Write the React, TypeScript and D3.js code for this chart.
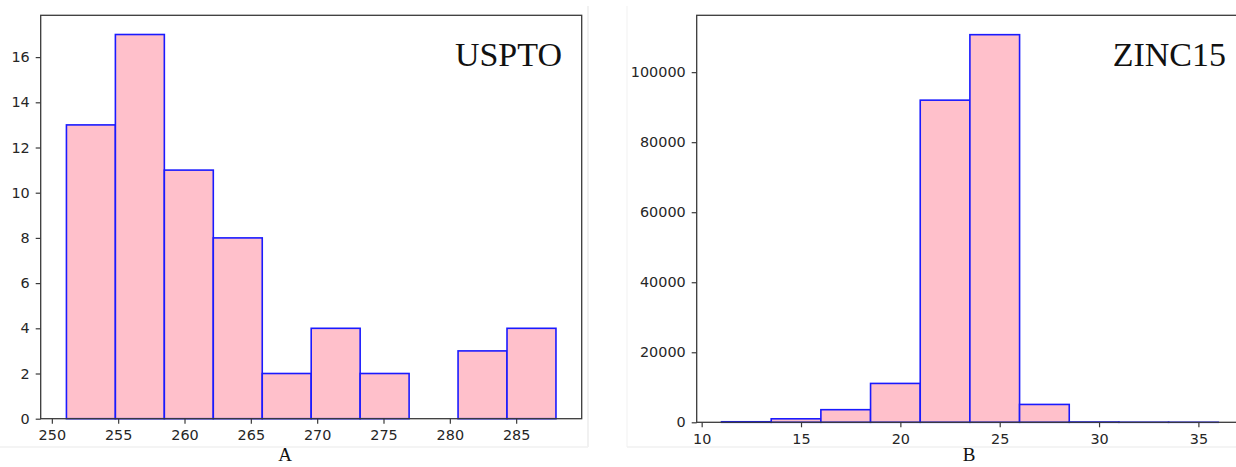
import React, { useEffect, useRef } from "react";
import * as d3 from "d3";

// USPTO histogram (panel A)
const usptoEdges = [251.1, 254.79, 258.48, 262.17, 265.86, 269.55, 273.24, 276.93, 280.62, 284.31, 288.0];
const usptoCounts = [13, 17, 11, 8, 2, 4, 2, 0, 3, 4];
const usptoXTicks = [250, 255, 260, 265, 270, 275, 280, 285];
const usptoYTicks = [0, 2, 4, 6, 8, 10, 12, 14, 16];

// ZINC15 histogram (panel B)
const zincEdges = [11, 13.5, 16, 18.5, 21, 23.5, 26, 28.5, 31, 33.5, 36];
const zincCounts = [150, 1000, 3600, 11100, 92000, 110700, 5100, 80, 20, 5];
const zincXTicks = [10, 15, 20, 25, 30, 35];
const zincYTicks = [0, 20000, 40000, 60000, 80000, 100000];

const W = 1236, H = 467;
const tickFont = "DejaVu Sans, sans-serif";
const serif = "Liberation Serif, Times New Roman, serif";

function drawPanel(svg, opts) {
  const { edges, counts, xTicks, yTicks, xDomain, yDomain, xRange, yRange, title, titleX, label, labelX } = opts;
  const x = d3.scaleLinear().domain(xDomain).range(xRange);
  const y = d3.scaleLinear().domain(yDomain).range(yRange);
  const g = svg.append("g");

  const bins = counts.map((c, i) => ({ x0: edges[i], x1: edges[i + 1], c }));

  g.selectAll("rect.bar")
    .data(bins)
    .enter()
    .append("rect")
    .attr("class", "bar")
    .attr("x", d => x(d.x0))
    .attr("width", d => x(d.x1) - x(d.x0))
    .attr("y", d => y(d.c))
    .attr("height", d => y(0) - y(d.c))
    .attr("fill", "#ffc0cb")
    .attr("stroke", "#1a1aff")
    .attr("stroke-width", 1.6);

  // frame
  g.append("rect")
    .attr("x", xRange[0])
    .attr("y", yRange[1])
    .attr("width", xRange[1] - xRange[0])
    .attr("height", yRange[0] - yRange[1])
    .attr("fill", "none")
    .attr("stroke", "#3a3a3a")
    .attr("stroke-width", 1.3);

  const xAxis = g.append("g")
    .attr("transform", `translate(0,${yRange[0]})`)
    .call(d3.axisBottom(x).tickValues(xTicks).tickSize(5).tickPadding(6).tickFormat(d3.format("d")));
  const yAxis = g.append("g")
    .attr("transform", `translate(${xRange[0]},0)`)
    .call(d3.axisLeft(y).tickValues(yTicks).tickSize(5).tickPadding(6).tickFormat(d3.format("d")));

  [xAxis, yAxis].forEach(a => {
    a.select(".domain").remove();
    a.selectAll("line").attr("stroke", "#3a3a3a").attr("stroke-width", 1.2);
    a.selectAll("text")
      .attr("fill", "#262626")
      .style("font-family", tickFont)
      .style("font-size", "14.4px");
  });

  g.append("text")
    .attr("x", titleX)
    .attr("y", 65.7)
    .attr("text-anchor", "end")
    .style("font-family", serif)
    .style("font-size", "34px")
    .attr("fill", "#111")
    .text(title);

  g.append("text")
    .attr("x", labelX)
    .attr("y", 461)
    .attr("text-anchor", "middle")
    .style("font-family", serif)
    .style("font-size", "19px")
    .attr("fill", "#111")
    .text(label);
}

const App = () => {
  const svgRef = useRef(null);
  useEffect(() => {
    const svg = d3.select(svgRef.current);
    svg.selectAll("*").remove();

    svg.append("rect").attr("width", W).attr("height", H).attr("fill", "#fff");

    // faint borders of the pasted screenshots
    svg.append("line").attr("x1", 588).attr("x2", 588).attr("y1", 6).attr("y2", 447)
      .attr("stroke", "#ececec").attr("stroke-width", 1.5);
    svg.append("line").attr("x1", 0).attr("x2", 588).attr("y1", 447).attr("y2", 447)
      .attr("stroke", "#f1f1f1").attr("stroke-width", 1.5);
    svg.append("line").attr("x1", 627).attr("x2", 627).attr("y1", 6).attr("y2", 447)
      .attr("stroke", "#f3f3f3").attr("stroke-width", 1.2);
    svg.append("line").attr("x1", 627).attr("x2", W).attr("y1", 447).attr("y2", 447)
      .attr("stroke", "#f1f1f1").attr("stroke-width", 1.5);

    drawPanel(svg, {
      edges: usptoEdges,
      counts: usptoCounts,
      xTicks: usptoXTicks,
      yTicks: usptoYTicks,
      xDomain: [249.16, 289.94],
      yDomain: [0, 17.85],
      xRange: [40.7, 581.7],
      yRange: [418.7, 15.3],
      title: "USPTO",
      titleX: 562,
      label: "A",
      labelX: 285,
    });

    drawPanel(svg, {
      edges: zincEdges,
      counts: zincCounts,
      xTicks: zincXTicks,
      yTicks: zincYTicks,
      xDomain: [9.75, 37.25],
      yDomain: [0, 116235],
      xRange: [696.7, 1243.1],
      yRange: [422.3, 15.3],
      title: "ZINC15",
      titleX: 1226,
      label: "B",
      labelX: 969,
    });
  }, []);

  return (
    <svg
      ref={svgRef}
      width={W}
      height={H}
      style={{ position: "absolute", left: 0, top: 0, display: "block" }}
    />
  );
};

export default App;
